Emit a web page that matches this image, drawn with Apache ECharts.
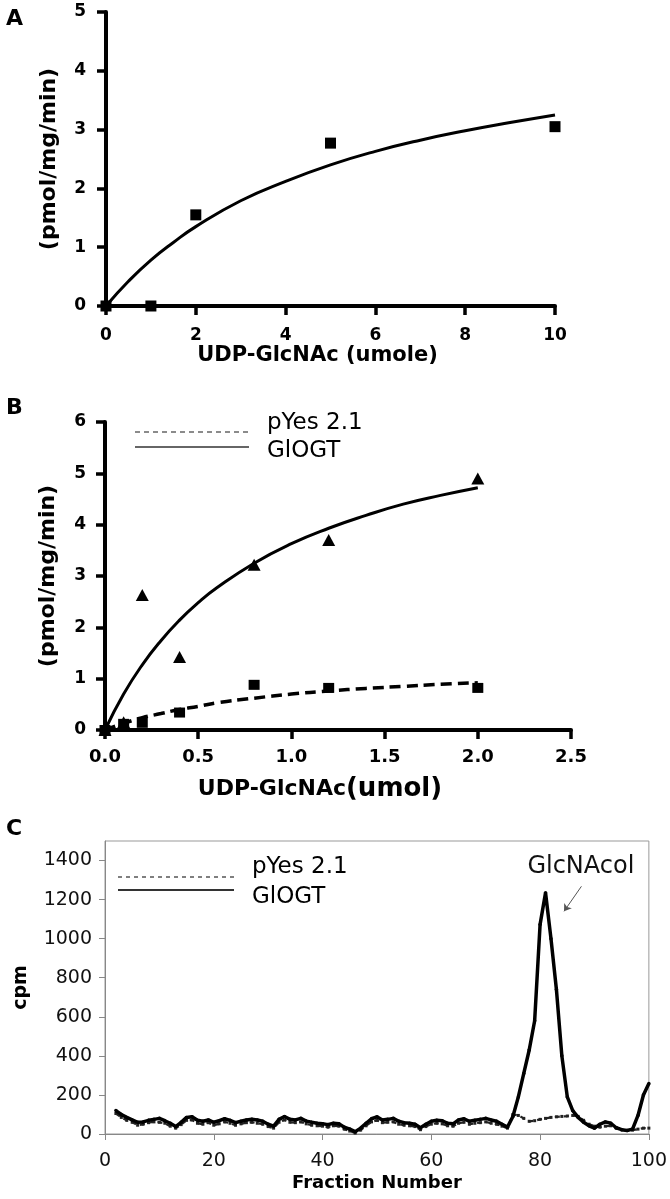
<!DOCTYPE html>
<html>
<head>
<meta charset="utf-8">
<script src="https://cdn.jsdelivr.net/npm/echarts@6/dist/echarts.min.js"></script>
<style>html,body{margin:0;padding:0;background:#fff;}#c{width:670px;height:1199px;}</style>
</head>
<body>
<div id="c"></div>
<script>
// ---- Panel A ----
const aX = [0, 1, 2, 5, 10];
const aY = [0, 0, 1.55, 2.77, 3.05];
const aFitX = [0, 0.5, 1, 1.5, 2, 3, 4, 5, 6, 7, 8, 9, 10];
const aFitY = [0, 0.42, 0.78, 1.08, 1.35, 1.79, 2.12, 2.40, 2.63, 2.82, 2.98, 3.12, 3.25];
const aYTicks = [0, 1, 2, 3, 4, 5];
// ---- Panel B ----
const bX = [0, 0.1, 0.2, 0.4, 0.8, 1.2, 2.0];
const bGlogt = [0, 0.15, 2.63, 1.42, 3.22, 3.70, 4.90];
const bPyes = [0, 0.12, 0.14, 0.34, 0.88, 0.82, 0.82];
const bFitX = [0, 0.1, 0.2, 0.3, 0.4, 0.5, 0.6, 0.8, 1.0, 1.2, 1.4, 1.6, 1.8, 2.0];
const bFitGlogt = [0, 0.70, 1.27, 1.74, 2.14, 2.48, 2.77, 3.25, 3.63, 3.93, 4.18, 4.40, 4.57, 4.72];
const bFitPyes = [0, 0.13, 0.24, 0.32, 0.40, 0.46, 0.53, 0.62, 0.70, 0.76, 0.81, 0.85, 0.89, 0.92];
const bYTicks = [0, 1, 2, 3, 4, 5, 6];
// ---- Panel C ----
const cFraction = [2,3,4,5,6,7,8,9,10,11,12,13,14,15,16,17,18,19,20,21,22,23,24,25,26,27,28,29,30,
  31,32,33,34,35,36,37,38,39,40,41,42,43,44,45,46,47,48,49,50,51,52,53,54,55,56,57,58,59,60,
  61,62,63,64,65,66,67,68,69,70,71,72,73,74,75,76,77,78,79,80,81,82,83,84,85,86,87,88,89,90,
  91,92,93,94,95,96,97,98,99,100];
const cGlogt = [120,100,85,72,60,62,70,75,80,68,55,38,60,85,88,70,65,72,60,68,78,70,58,65,72,75,72,65,50,
  40,75,90,75,72,80,66,60,55,52,48,55,52,35,25,12,30,55,78,88,72,75,80,65,58,55,50,32,50,65,
  70,68,55,52,72,78,65,70,75,80,72,65,50,35,90,190,310,430,580,1073,1235,1000,740,400,190,120,85,60,42,30,
  50,62,55,32,22,18,25,95,200,258];
const cPyes = [105,85,70,60,45,50,58,62,60,55,40,30,48,70,72,55,50,58,45,52,62,55,45,52,58,60,55,50,38,
  30,60,72,60,58,62,52,45,42,40,35,42,40,25,15,5,20,42,62,70,58,60,62,50,45,42,38,22,38,50,
  55,52,42,40,55,60,50,55,58,62,55,50,40,30,100,95,80,65,68,75,80,85,88,90,92,95,90,70,50,40,
  35,40,42,30,22,18,20,25,30,30];
const cYTicks = [0, 200, 400, 600, 800, 1000, 1200, 1400];
const legendNames = ['pYes 2.1', 'GlOGT'];

const pairs = (xs, ys) => xs.map((x, i) => [x, ys[i]]);
const F = 'DejaVu Sans';

function boldAxis(min, max, interval, labelMargin, fs, fmt, custom) {
  const lab = { margin: labelMargin, fontFamily: F, fontWeight: 'bold', fontSize: fs, color: '#000',
    formatter: fmt || (v => String(v)) };
  const tick = { show: true, length: 9, lineStyle: { color: '#000', width: 3.5 } };
  if (custom) { lab.customValues = custom; tick.customValues = custom; }
  return {
    type: 'value', min: min, max: max, interval: interval,
    axisLine: { show: true, onZero: false, lineStyle: { color: '#000', width: 4 } },
    axisTick: tick,
    axisLabel: lab,
    splitLine: { show: false }
  };
}
function legendGraphic(x1, x2, yLine, yText, name, lineStyle) {
  return [
    { type: 'line', shape: { x1: x1, y1: yLine, x2: x2, y2: yLine }, style: lineStyle, silent: true },
    { type: 'text', x: x2 + 18, y: yText, silent: true,
      style: { text: name, fontFamily: F, fontSize: 23, fill: '#000', verticalAlign: 'middle', align: 'left' } }
  ];
}

const chart = echarts.init(document.getElementById('c'), null, { renderer: 'canvas' });
const option = {
  backgroundColor: '#fff',
  animation: false,
  textStyle: { fontFamily: F },
  title: [
    { text: 'A', left: 1, top: 3, textStyle: { fontFamily: F, fontWeight: 'bold', fontSize: 22, color: '#000' } },
    { text: 'B', left: 1, top: 392, textStyle: { fontFamily: F, fontWeight: 'bold', fontSize: 22, color: '#000' } },
    { text: 'C', left: 1, top: 813, textStyle: { fontFamily: F, fontWeight: 'bold', fontSize: 22, color: '#000' } }
  ],
  grid: [
    { left: 106, top: 12, width: 449, height: 294 },
    { left: 105, top: 422, width: 466, height: 308 },
    { left: 105, top: 841, width: 546, height: 293, show: true, borderColor: '#999', borderWidth: 1 }
  ],
  xAxis: [
    Object.assign(boldAxis(0, 10, 2, 21, 17), { gridIndex: 0, name: 'UDP-GlcNAc (umole)', nameLocation: 'middle', nameGap: 36,
      nameTextStyle: { fontFamily: F, fontWeight: 'bold', fontSize: 21, color: '#000', padding: [0, 26, 0, 0] } }),
    Object.assign(boldAxis(0, 2.5, 0.5, 18, 18, v => v.toFixed(1)), { gridIndex: 1, name: '{a|UDP-GlcNAc}{b|(umol)}', nameLocation: 'middle', nameGap: 46,
      nameTextStyle: { padding: [0, 36, 0, 0], rich: {
        a: { fontFamily: F, fontWeight: 'bold', fontSize: 22, color: '#000' },
        b: { fontFamily: F, fontWeight: 'bold', fontSize: 26, color: '#000' } } } }),
    { gridIndex: 2, type: 'value', min: 0, max: 100, interval: 20,
      axisLine: { show: true, onZero: false, lineStyle: { color: '#888', width: 1 } },
      axisTick: { show: true, length: 6, lineStyle: { color: '#888', width: 1 } },
      axisLabel: { margin: 18, fontFamily: F, fontSize: 19, color: '#111' },
      splitLine: { show: false },
      name: 'Fraction Number', nameLocation: 'middle', nameGap: 40,
      nameTextStyle: { fontFamily: F, fontWeight: 'bold', fontSize: 18, color: '#000' } }
  ],
  yAxis: [
    Object.assign(boldAxis(0, 5, 1, 20, 17, null, aYTicks), { gridIndex: 0, name: '(pmol/mg/min)', nameLocation: 'middle', nameGap: 46,
      nameMoveOverlap: false,
      nameTextStyle: { fontFamily: F, fontWeight: 'bold', fontSize: 22, color: '#000' } }),
    Object.assign(boldAxis(0, 6, 1, 19, 17, null, bYTicks), { gridIndex: 1, name: '(pmol/mg/min)', nameLocation: 'middle', nameGap: 46,
      nameMoveOverlap: false,
      nameTextStyle: { fontFamily: F, fontWeight: 'bold', fontSize: 22, color: '#000' } }),
    { gridIndex: 2, type: 'value', min: 0, max: 1500, interval: 100,
      axisLine: { show: true, onZero: false, lineStyle: { color: '#888', width: 1 } },
      axisTick: { show: true, length: 6, customValues: cYTicks, lineStyle: { color: '#888', width: 1 } },
      axisLabel: { margin: 13, customValues: cYTicks, formatter: v => String(v), fontFamily: F, fontSize: 19, color: '#111' },
      splitLine: { show: false },
      name: 'cpm', nameLocation: 'middle', nameGap: 74,
      nameTextStyle: { fontFamily: F, fontWeight: 'bold', fontSize: 19, color: '#000' } }
  ],
  graphic: [].concat(
    legendGraphic(135, 249, 432, 423, legendNames[0], { stroke: '#666', lineWidth: 1.5, lineDash: [5, 4] }),
    legendGraphic(135, 249, 447, 451, legendNames[1], { stroke: '#666', lineWidth: 2 }),
    legendGraphic(118, 234, 877, 867, legendNames[0], { stroke: '#555', lineWidth: 1.5, lineDash: [4, 4] }),
    legendGraphic(118, 234, 890, 897, legendNames[1], { stroke: '#333', lineWidth: 2 })
  ),
  series: [
    // A
    { name: 'A fit', type: 'line', xAxisIndex: 0, yAxisIndex: 0, data: pairs(aFitX, aFitY), smooth: true,
      symbol: 'none', lineStyle: { color: '#000', width: 3 }, z: 3 },
    { name: 'A data', type: 'scatter', xAxisIndex: 0, yAxisIndex: 0, data: pairs(aX, aY), symbol: 'rect',
      symbolSize: 11, itemStyle: { color: '#000', opacity: 1 }, z: 4 },
    // B
    { name: 'pYes 2.1', type: 'line', xAxisIndex: 1, yAxisIndex: 1, data: pairs(bFitX, bFitPyes), smooth: true,
      symbol: 'none', lineStyle: { color: '#000', width: 3.5, type: [11, 6] }, z: 3 },
    { name: 'GlOGT', type: 'line', xAxisIndex: 1, yAxisIndex: 1, data: pairs(bFitX, bFitGlogt), smooth: true,
      symbol: 'none', lineStyle: { color: '#000', width: 3 }, z: 3 },
    { name: 'pYes 2.1 data', type: 'scatter', xAxisIndex: 1, yAxisIndex: 1, data: pairs(bX, bPyes), symbol: 'rect',
      symbolSize: [11, 10], itemStyle: { color: '#000', opacity: 1 }, z: 4 },
    { name: 'GlOGT data', type: 'scatter', xAxisIndex: 1, yAxisIndex: 1, data: pairs(bX, bGlogt), symbol: 'triangle',
      symbolSize: [13, 12], itemStyle: { color: '#000', opacity: 1 }, z: 4 },
    // C
    { name: 'pYes 2.1', type: 'line', xAxisIndex: 2, yAxisIndex: 2, data: pairs(cFraction, cPyes),
      symbol: 'rect', symbolSize: 3, itemStyle: { color: '#222' },
      lineStyle: { color: '#222', width: 2.2, type: [5, 4] }, z: 3 },
    { name: 'GlOGT', type: 'line', xAxisIndex: 2, yAxisIndex: 2, data: pairs(cFraction, cGlogt),
      symbol: 'circle', symbolSize: 3.5, itemStyle: { color: '#000' },
      lineStyle: { color: '#000', width: 3.5 }, z: 4,
      markLine: { silent: true, symbol: ['none', 'arrow'], symbolSize: 7, animation: false,
        lineStyle: { color: '#555', width: 1, type: 'solid' }, label: { show: false },
        data: [[{ coord: [87.6, 1268] }, { coord: [84.4, 1140] }]] },
      markPoint: { silent: true, symbol: 'circle', symbolSize: 1, itemStyle: { color: 'rgba(0,0,0,0)' },
        label: { show: true, position: 'inside', formatter: 'GlcNAcol', fontFamily: F, fontSize: 24, color: '#111' },
        data: [{ coord: [87.5, 1370] }] } }
  ]
};
chart.setOption(option);
</script>
</body>
</html>
